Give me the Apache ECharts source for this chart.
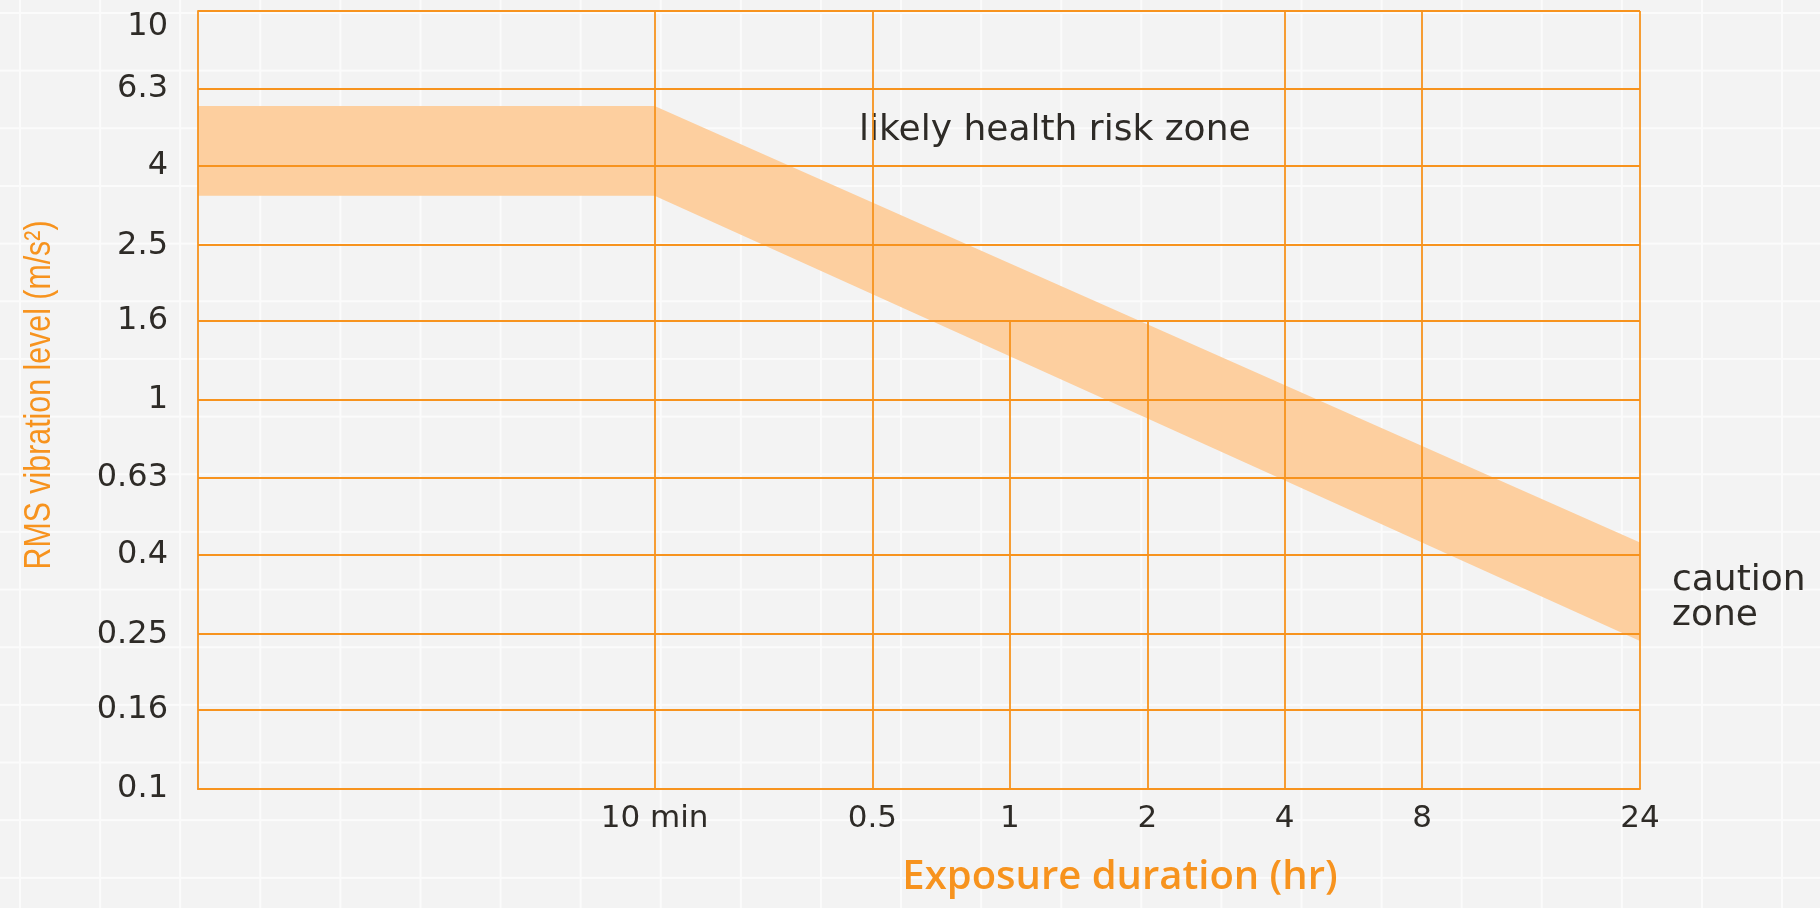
<!DOCTYPE html>
<html>
<head>
<meta charset="utf-8">
<script src="https://cdn.jsdelivr.net/npm/echarts@6.0.0/dist/echarts.min.js"></script>
<style>
  html, body { margin: 0; padding: 0; }
  body {
    width: 1820px; height: 908px; overflow: hidden;
    background-color: #f3f3f3;
    background-image:
      linear-gradient(to right, #fbfbfb 0, #fbfbfb 2px, transparent 2px),
      linear-gradient(to bottom, #fbfbfb 0, #fbfbfb 2px, transparent 2px);
    background-size: 80.1px 57.67px;
    background-position: 19px 12px;
  }
  #chart { width: 1820px; height: 908px; }
</style>
</head>
<body>
<div id="chart"></div>
<script>
// ---- data ----
const xTickValues = [10 / 60, 0.5, 1, 2, 4, 8, 24];          // exposure duration (hr)
const xTickLabels = ['10 min', '0.5', '1', '2', '4', '8', '24'];
const xFullGridValues = [10 / 60, 0.5, 4, 8, 24];             // full-height vertical grid lines
const xPartialGridValues = [1, 2];                              // vertical grid lines starting lower
const xPartialGridTop = 1.6;                                    // level where those lines start
const yTickValues = [0.1, 0.16, 0.25, 0.4, 0.63, 1, 1.6, 2.5, 4, 6.3, 10];
const yTickLabels = ['0.1', '0.16', '0.25', '0.4', '0.63', '1', '1.6', '2.5', '4', '6.3', '10'];
const bandHours = [1 / 60, 10 / 60, 24];
const bandUpper = [5.7, 5.7, 0.43];
const bandLower = [3.35, 3.35, 0.24];

const ORANGE = '#f7931e';
const BAND = '#fdcf9f';
const TEXT = '#2e2b27';

function lookup(values, labels, v) {
  let best = 0, bd = Infinity;
  for (let i = 0; i < values.length; i++) {
    const d = Math.abs(Math.log(values[i]) - Math.log(v));
    if (d < bd) { bd = d; best = i; }
  }
  return labels[best];
}

const chart = echarts.init(document.getElementById('chart'), null, { renderer: 'canvas' });

const option = {
  backgroundColor: 'transparent',
  animation: false,
  grid: { left: 198, right: 180, top: 11, bottom: 119, outerBoundsMode: 'none' },
  xAxis: {
    type: 'log',
    min: 1 / 60,
    max: 24,
    z: 5,
    axisLine: { show: true, lineStyle: { color: ORANGE, width: 1.8 } },
    axisTick: { show: false, customValues: xFullGridValues },
    splitLine: { show: true, lineStyle: { color: ORANGE, width: 1.8 } },
    axisLabel: {
      customValues: xTickValues,
      formatter: v => lookup(xTickValues, xTickLabels, v),
      color: TEXT, fontFamily: 'DejaVu Sans', fontSize: 31, margin: 14
    }
  },
  yAxis: {
    type: 'log',
    min: 0.1,
    max: 10,
    z: 5,
    axisLine: { show: true, lineStyle: { color: ORANGE, width: 1.8 } },
    axisTick: { show: false, customValues: yTickValues },
    splitLine: { show: true, lineStyle: { color: ORANGE, width: 1.8 } },
    axisLabel: {
      customValues: yTickValues,
      formatter: v => lookup(yTickValues, yTickLabels, v),
      color: TEXT, fontFamily: 'DejaVu Sans', fontSize: 32, margin: 30,
      verticalAlignMaxLabel: 'top'
    }
  },
  series: [
    {
      type: 'custom',
      z: 2,
      silent: true,
      clip: false,
      data: bandHours.map((h, i) => [h, bandUpper[i], bandLower[i]]),
      encode: { x: 0, y: 1 },
      renderItem: function (params, api) {
        if (params.dataIndex !== 0) return null;
        const pts = [];
        for (let i = 0; i < bandHours.length; i++) pts.push(api.coord([bandHours[i], bandUpper[i]]));
        for (let i = bandHours.length - 1; i >= 0; i--) pts.push(api.coord([bandHours[i], bandLower[i]]));
        return { type: 'polygon', shape: { points: pts }, style: { fill: BAND } };
      },
      markLine: {
        silent: true,
        symbol: 'none',
        z: 6,
        label: { show: false },
        lineStyle: { color: ORANGE, width: 1.8, type: 'solid' },
        data: xPartialGridValues.map(v => [{ coord: [v, xPartialGridTop] }, { coord: [v, 0.1] }])
      }
    }
  ],
  graphic: [
    {
      type: 'text', x: 40, y: 395, rotation: Math.PI / 2, scaleX: 0.82, scaleY: 1,
      style: {
        text: 'RMS vibration level (m/s²)', fill: ORANGE,
        font: '37px "Liberation Sans", sans-serif',
        align: 'center', verticalAlign: 'middle'
      }
    },
    {
      type: 'text', x: 1120, y: 878,
      style: {
        text: 'Exposure duration (hr)', fill: ORANGE,
        font: '600 40px "Open Sans", sans-serif',
        align: 'center', verticalAlign: 'middle'
      }
    },
    {
      type: 'text', x: 859, y: 131,
      style: {
        text: 'likely health risk zone', fill: TEXT,
        font: '36px "DejaVu Sans", sans-serif',
        align: 'left', verticalAlign: 'middle'
      }
    },
    {
      type: 'text', x: 1672, y: 581,
      style: {
        text: 'caution', fill: TEXT,
        font: '36px "DejaVu Sans", sans-serif',
        align: 'left', verticalAlign: 'middle'
      }
    },
    {
      type: 'text', x: 1672, y: 616,
      style: {
        text: 'zone', fill: TEXT,
        font: '36px "DejaVu Sans", sans-serif',
        align: 'left', verticalAlign: 'middle'
      }
    }
  ]
};

chart.setOption(option);
</script>
</body>
</html>
